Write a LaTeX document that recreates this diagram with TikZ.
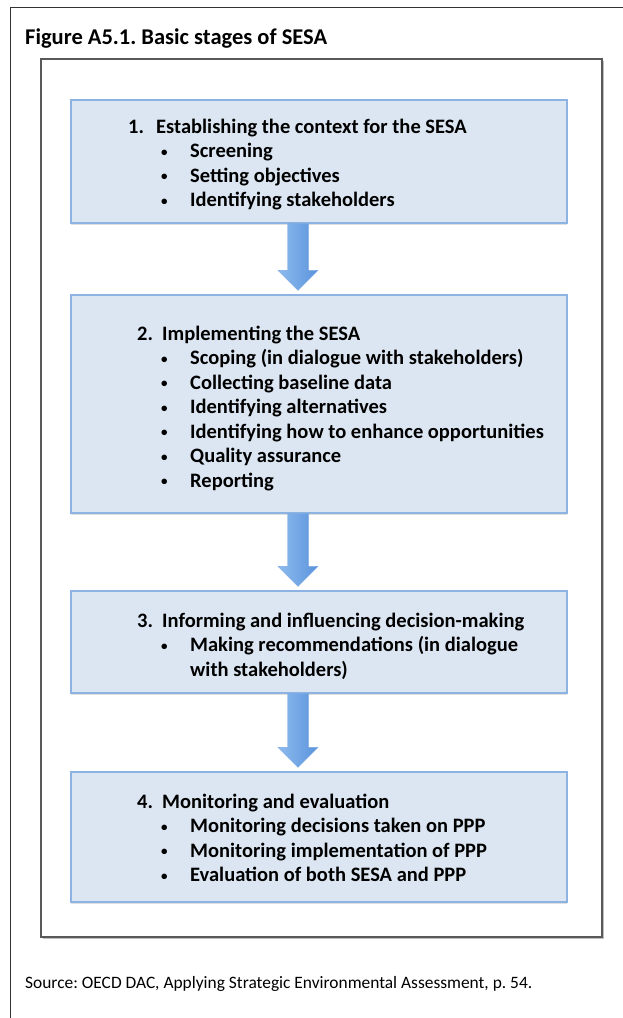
\documentclass[tikz,border=0pt]{standalone}
\usepackage{fontspec}
\setmainfont{Carlito}
\frenchspacing
\usetikzlibrary{calc,shadows}
\definecolor{stagefill}{HTML}{DCE6F2}
\definecolor{stageline}{HTML}{8DB3E2}
\definecolor{arrowlight}{HTML}{8DBBEE}
\definecolor{arrowdark}{HTML}{5A93DC}
\newcommand{\stageitem}[2][24pt]{\hspace*{#1}\makebox[29pt][l]{\raisebox{1.5pt}{\fontsize{13}{13}\selectfont•}}#2}
\newcommand{\stagearrow}[2]{%
	\path[stagearrow] let \p1=(#1 -| axis), \p2=(#2 -| axis) in
		(\x1-10.5pt,\y1) -- (\x1+10.5pt,\y1) -- (\x1+10.5pt,\y2+24pt) -- (\x1+20pt,\y2+24pt)
		-- (\x1,\y2+4pt) -- (\x1-20pt,\y2+24pt) -- (\x1-10.5pt,\y2+24pt) -- cycle;}
\tikzset{
	stagebox/.style={draw=stageline, fill=stagefill, line width=1.2pt, minimum width=496pt, inner sep=0pt,
		drop shadow={shadow xshift=0pt, shadow yshift=-1.5pt, opacity=.25}},
	stagetext/.style={anchor=base west, inner sep=0pt, font=\fontsize{20.5}{24.5}\selectfont\bfseries},
	stagearrow/.style={left color=arrowlight, right color=arrowdark, draw=arrowdark!80, line width=.4pt},
}
\begin{document}
\begin{tikzpicture}[x=1pt, y=-1pt]
	\useasboundingbox (0,0) rectangle (623,1018);
	\draw[black!80, line width=.8pt] (623,7) -| (10,1018);
	\node[anchor=base west, inner sep=0pt, font=\fontsize{22.5}{27}\selectfont\bfseries] (title) at (25,44) {Figure A5.1. Basic stages of SESA};
	\draw[black!65, fill=white, line width=1.2pt, drop shadow={shadow xshift=1.5pt, shadow yshift=-1.5pt, opacity=.5}] (41,59) rectangle (602,937);
	\coordinate (axis) at (298,0);

	\node[stagebox, minimum height=123pt] (box1) at (319,161.5) {};
	\node[stagebox, minimum height=218pt] (box2) at (319,404) {};
	\node[stagebox, minimum height=102pt] (box3) at (319,642) {};
	\node[stagebox, minimum height=130pt] (box4) at (319,837) {};

	\node[stagetext] (text1) at (128,133) {\parbox[t]{420pt}{\makebox[28pt][l]{1.}Establishing the context for the SESA\par
		\stageitem[33pt]{Screening}\par
		\stageitem[33pt]{Setting objectives}\par
		\stageitem[33pt]{Identifying stakeholders}}};
	\node[stagetext] (text2) at (137,340) {\parbox[t]{420pt}{\makebox[25pt][l]{2.}Implementing the SESA\par
		\stageitem{Scoping (in dialogue with stakeholders)}\par
		\stageitem{Collecting baseline data}\par
		\stageitem{Identifying alternatives}\par
		\stageitem{Identifying how to enhance opportunities}\par
		\stageitem{Quality assurance}\par
		\stageitem{Reporting}}};
	\node[stagetext] (text3) at (137,627) {\parbox[t]{420pt}{\makebox[25pt][l]{3.}Informing and influencing decision-making\par
		\stageitem{\parbox[t]{330pt}{Making recommendations (in dialogue\\with stakeholders)}}}};
	\node[stagetext] (text4) at (137,808) {\parbox[t]{420pt}{\makebox[25pt][l]{4.}Monitoring and evaluation\par
		\stageitem{Monitoring decisions taken on PPP}\par
		\stageitem{Monitoring implementation of PPP}\par
		\stageitem{Evaluation of both SESA and PPP}}};

	\stagearrow{box1.south}{box2.north}
	\stagearrow{box2.south}{box3.north}
	\stagearrow{box3.south}{box4.north}

	\node[anchor=base west, inner sep=0pt, font=\fontsize{17.4}{20}\selectfont] (source) at (25,988) {Source: OECD DAC, Applying Strategic Environmental Assessment, p. 54.};
\end{tikzpicture}
\end{document}
